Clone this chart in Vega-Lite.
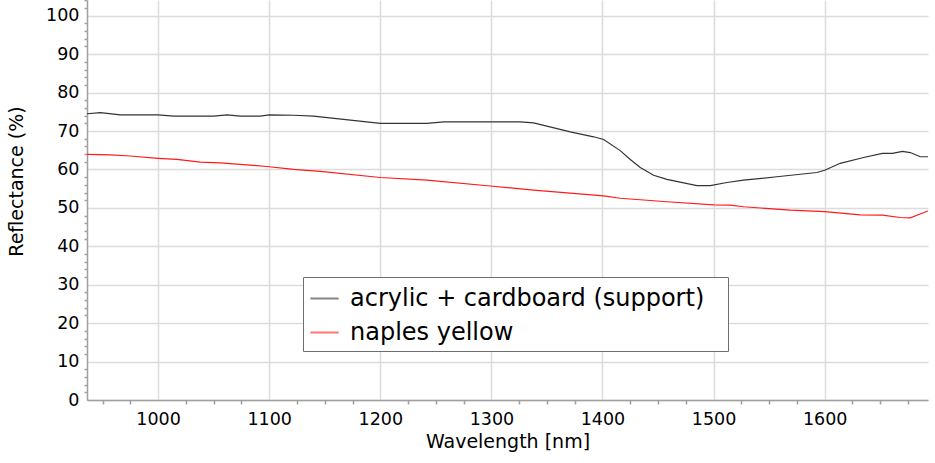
{
  "$schema": "https://vega.github.io/schema/vega-lite/v6.json",
  "width": 841,
  "height": 400,
  "autosize": {"type": "none"},
  "padding": {"left": 87, "top": 0, "right": 7, "bottom": 63},
  "background": "white",
  "data": {
    "values": [
      {"wavelength": 936, "reflectance": 74.5, "series": "acrylic + cardboard (support)"},
      {"wavelength": 948, "reflectance": 74.8, "series": "acrylic + cardboard (support)"},
      {"wavelength": 966, "reflectance": 74.2, "series": "acrylic + cardboard (support)"},
      {"wavelength": 1000, "reflectance": 74.2, "series": "acrylic + cardboard (support)"},
      {"wavelength": 1014, "reflectance": 73.9, "series": "acrylic + cardboard (support)"},
      {"wavelength": 1050, "reflectance": 73.9, "series": "acrylic + cardboard (support)"},
      {"wavelength": 1062, "reflectance": 74.2, "series": "acrylic + cardboard (support)"},
      {"wavelength": 1074, "reflectance": 73.9, "series": "acrylic + cardboard (support)"},
      {"wavelength": 1092, "reflectance": 73.9, "series": "acrylic + cardboard (support)"},
      {"wavelength": 1100, "reflectance": 74.2, "series": "acrylic + cardboard (support)"},
      {"wavelength": 1122, "reflectance": 74.1, "series": "acrylic + cardboard (support)"},
      {"wavelength": 1140, "reflectance": 73.9, "series": "acrylic + cardboard (support)"},
      {"wavelength": 1200, "reflectance": 72.0, "series": "acrylic + cardboard (support)"},
      {"wavelength": 1242, "reflectance": 72.0, "series": "acrylic + cardboard (support)"},
      {"wavelength": 1257, "reflectance": 72.4, "series": "acrylic + cardboard (support)"},
      {"wavelength": 1326, "reflectance": 72.4, "series": "acrylic + cardboard (support)"},
      {"wavelength": 1338, "reflectance": 72.1, "series": "acrylic + cardboard (support)"},
      {"wavelength": 1371, "reflectance": 69.8, "series": "acrylic + cardboard (support)"},
      {"wavelength": 1392, "reflectance": 68.5, "series": "acrylic + cardboard (support)"},
      {"wavelength": 1401, "reflectance": 67.8, "series": "acrylic + cardboard (support)"},
      {"wavelength": 1416, "reflectance": 64.9, "series": "acrylic + cardboard (support)"},
      {"wavelength": 1425, "reflectance": 62.6, "series": "acrylic + cardboard (support)"},
      {"wavelength": 1434, "reflectance": 60.5, "series": "acrylic + cardboard (support)"},
      {"wavelength": 1446, "reflectance": 58.5, "series": "acrylic + cardboard (support)"},
      {"wavelength": 1458, "reflectance": 57.4, "series": "acrylic + cardboard (support)"},
      {"wavelength": 1485, "reflectance": 55.8, "series": "acrylic + cardboard (support)"},
      {"wavelength": 1497, "reflectance": 55.8, "series": "acrylic + cardboard (support)"},
      {"wavelength": 1512, "reflectance": 56.6, "series": "acrylic + cardboard (support)"},
      {"wavelength": 1527, "reflectance": 57.2, "series": "acrylic + cardboard (support)"},
      {"wavelength": 1557, "reflectance": 58.1, "series": "acrylic + cardboard (support)"},
      {"wavelength": 1593, "reflectance": 59.2, "series": "acrylic + cardboard (support)"},
      {"wavelength": 1600, "reflectance": 59.8, "series": "acrylic + cardboard (support)"},
      {"wavelength": 1614, "reflectance": 61.6, "series": "acrylic + cardboard (support)"},
      {"wavelength": 1635, "reflectance": 63.1, "series": "acrylic + cardboard (support)"},
      {"wavelength": 1652, "reflectance": 64.2, "series": "acrylic + cardboard (support)"},
      {"wavelength": 1661, "reflectance": 64.2, "series": "acrylic + cardboard (support)"},
      {"wavelength": 1670, "reflectance": 64.7, "series": "acrylic + cardboard (support)"},
      {"wavelength": 1677, "reflectance": 64.4, "series": "acrylic + cardboard (support)"},
      {"wavelength": 1686, "reflectance": 63.3, "series": "acrylic + cardboard (support)"},
      {"wavelength": 1693, "reflectance": 63.3, "series": "acrylic + cardboard (support)"},
      {"wavelength": 936, "reflectance": 63.9, "series": "naples yellow"},
      {"wavelength": 957, "reflectance": 63.8, "series": "naples yellow"},
      {"wavelength": 975, "reflectance": 63.5, "series": "naples yellow"},
      {"wavelength": 1000, "reflectance": 62.9, "series": "naples yellow"},
      {"wavelength": 1017, "reflectance": 62.6, "series": "naples yellow"},
      {"wavelength": 1038, "reflectance": 61.9, "series": "naples yellow"},
      {"wavelength": 1056, "reflectance": 61.7, "series": "naples yellow"},
      {"wavelength": 1080, "reflectance": 61.2, "series": "naples yellow"},
      {"wavelength": 1100, "reflectance": 60.7, "series": "naples yellow"},
      {"wavelength": 1122, "reflectance": 60.0, "series": "naples yellow"},
      {"wavelength": 1146, "reflectance": 59.5, "series": "naples yellow"},
      {"wavelength": 1200, "reflectance": 57.9, "series": "naples yellow"},
      {"wavelength": 1242, "reflectance": 57.2, "series": "naples yellow"},
      {"wavelength": 1299, "reflectance": 55.7, "series": "naples yellow"},
      {"wavelength": 1338, "reflectance": 54.6, "series": "naples yellow"},
      {"wavelength": 1401, "reflectance": 53.1, "series": "naples yellow"},
      {"wavelength": 1416, "reflectance": 52.5, "series": "naples yellow"},
      {"wavelength": 1458, "reflectance": 51.6, "series": "naples yellow"},
      {"wavelength": 1500, "reflectance": 50.8, "series": "naples yellow"},
      {"wavelength": 1515, "reflectance": 50.7, "series": "naples yellow"},
      {"wavelength": 1527, "reflectance": 50.3, "series": "naples yellow"},
      {"wavelength": 1569, "reflectance": 49.4, "series": "naples yellow"},
      {"wavelength": 1600, "reflectance": 49.0, "series": "naples yellow"},
      {"wavelength": 1632, "reflectance": 48.2, "series": "naples yellow"},
      {"wavelength": 1652, "reflectance": 48.1, "series": "naples yellow"},
      {"wavelength": 1668, "reflectance": 47.5, "series": "naples yellow"},
      {"wavelength": 1677, "reflectance": 47.4, "series": "naples yellow"},
      {"wavelength": 1693, "reflectance": 49.2, "series": "naples yellow"}
    ]
  },
  "mark": {"type": "line", "strokeWidth": 1.2, "clip": true},
  "encoding": {
    "x": {
      "field": "wavelength",
      "type": "quantitative",
      "title": "Wavelength [nm]",
      "scale": {"domain": [936, 1693], "nice": false, "zero": false},
      "axis": {
        "values": [950, 975, 1000, 1025, 1050, 1075, 1100, 1125, 1150, 1175, 1200, 1225, 1250, 1275, 1300, 1325, 1350, 1375, 1400, 1425, 1450, 1475, 1500, 1525, 1550, 1575, 1600, 1625, 1650, 1675],
        "labelExpr": "datum.value % 100 === 0 ? datum.value : ''",
        "labelOverlap": false,
        "labelFlush": false,
        "labelPadding": 10,
        "tickSize": {"condition": {"test": "datum.value % 100 === 0", "value": 0}, "value": 4},
        "gridOpacity": {"condition": {"test": "datum.value % 100 === 0", "value": 1}, "value": 0},
        "titlePadding": 1
      }
    },
    "y": {
      "field": "reflectance",
      "type": "quantitative",
      "title": "Reflectance (%)",
      "scale": {"domain": [0, 104.1], "nice": false},
      "axis": {
        "values": [0, 2, 4, 6, 8, 10, 12, 14, 16, 18, 20, 22, 24, 26, 28, 30, 32, 34, 36, 38, 40, 42, 44, 46, 48, 50, 52, 54, 56, 58, 60, 62, 64, 66, 68, 70, 72, 74, 76, 78, 80, 82, 84, 86, 88, 90, 92, 94, 96, 98, 100, 102, 104],
        "labelExpr": "datum.value % 10 === 0 ? datum.value : ''",
        "labelOverlap": false,
        "labelFlush": false,
        "labelPadding": 8,
        "tickSize": {"condition": {"test": "datum.value % 10 === 0", "value": 0}, "value": 3},
        "gridOpacity": {"condition": {"test": "datum.value % 10 === 0", "value": 1}, "value": 0},
        "titleX": -71,
        "titleY": 181,
        "titleAngle": 270,
        "titleAlign": "center",
        "titleBaseline": "middle"
      }
    },
    "color": {
      "field": "series",
      "type": "nominal",
      "scale": {"domain": ["acrylic + cardboard (support)", "naples yellow"], "range": ["#333333", "#ff1a1a"]},
      "legend": {
        "title": null,
        "orient": "none",
        "legendX": 216,
        "legendY": 277,
        "labelExpr": "datum.label + '\u2800'",
        "labelLimit": 600,
        "symbolType": "stroke",
        "symbolSize": 800,
        "symbolStrokeWidth": 2,
        "symbolOpacity": 0.6,
        "labelFont": "DejaVu Sans",
        "labelFontSize": 24,
        "labelColor": "black",
        "labelOffset": 10,
        "rowPadding": 6,
        "padding": 6,
        "strokeColor": "#6e6e6e",
        "fillColor": "white",
        "cornerRadius": 0
      }
    }
  },
  "config": {
    "view": {"stroke": null},
    "axis": {
      "labelFont": "DejaVu Sans",
      "labelFontSize": 17.5,
      "labelColor": "black",
      "titleFont": "DejaVu Sans",
      "titleFontSize": 19,
      "titleFontWeight": "normal",
      "titleColor": "black",
      "domainColor": "#a0a0a0",
      "domainWidth": 1.5,
      "tickColor": "#a0a0a0",
      "tickWidth": 1.5,
      "gridColor": "#dcdcdc",
      "gridWidth": 1.5
    }
  }
}
